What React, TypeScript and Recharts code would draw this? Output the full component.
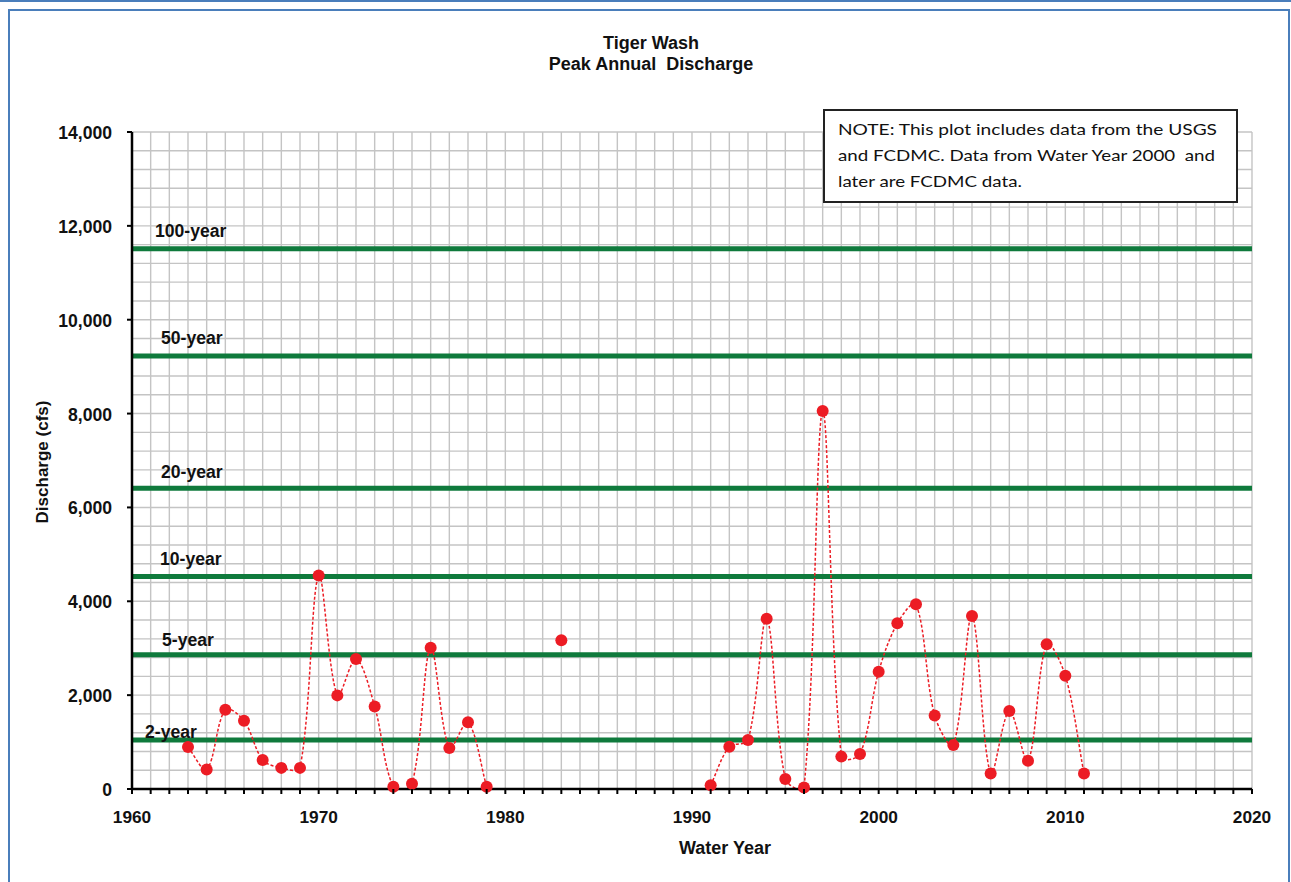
import React from 'react';
import { LineChart, Line, XAxis, YAxis, CartesianGrid, ReferenceLine } from 'recharts';

// ---- data ----
const years = [
  1963, 1964, 1965, 1966, 1967, 1968, 1969, 1970, 1971, 1972, 1973, 1974, 1975, 1976, 1977, 1978, 1979,
  1980, 1981, 1982, 1983, 1984, 1985, 1986, 1987, 1988, 1989, 1990,
  1991, 1992, 1993, 1994, 1995, 1996, 1997, 1998, 1999, 2000, 2001, 2002, 2003, 2004, 2005, 2006, 2007,
  2008, 2009, 2010, 2011,
];
const discharge: (number | null)[] = [
  895, 415, 1690, 1455, 620, 450, 450, 4550, 1995, 2770, 1760, 50, 110, 3010, 873, 1420, 50,
  null, null, null, 3170, null, null, null, null, null, null, null,
  80, 900, 1044, 3630, 213, 30, 8055, 690, 746, 2500, 3530, 3935, 1565, 935, 3686, 330, 1662,
  600, 3085, 2415, 330,
];
const returnPeriodLabels = ['100-year', '50-year', '20-year', '10-year', '5-year', '2-year'];
const returnPeriodFlows = [11510, 9228, 6410, 4530, 2860, 1044];
const xMajorTicks = [1960, 1970, 1980, 1990, 2000, 2010, 2020];
const yMajorTicks = [0, 2000, 4000, 6000, 8000, 10000, 12000, 14000];
const titleLines = ['Tiger Wash', 'Peak Annual  Discharge'];
const xTitle = 'Water Year';
const yTitle = 'Discharge (cfs)';
const noteLines = [
  'NOTE: This plot includes data from the USGS',
  'and FCDMC. Data from Water Year 2000  and',
  'later are FCDMC data.',
];

// ---- layout / style ----
const labelDx = [23, 29, 29, 28, 30, 13];
const labelDy = [-12, -12, -10, -11, -9, -2];
const FONT = '"Liberation Sans", Arial, sans-serif';
const GREEN = '#0f7a3c';
const RED = '#ec1c24';

const data = years.map((year, i) => ({ year, q: discharge[i] }));

const xAllTicks: number[] = [];
for (let y = 1960; y <= 2020; y++) xAllTicks.push(y);
const yAllTicks: number[] = [];
for (let v = 0; v <= 14000; v += 400) yAllTicks.push(v);

// Chord-weighted smoothing curve (similar to Excel's smoothed line)
function smoothCurve(context: any) {
  let pts: number[][] = [];
  let line: number = NaN;
  const dist = (a: number[], b: number[]) => Math.hypot(b[0] - a[0], b[1] - a[1]);
  return {
    areaStart() { line = 0; },
    areaEnd() { line = NaN; },
    lineStart() { pts = []; },
    lineEnd() {
      const n = pts.length;
      if (n > 0) {
        if (line) context.lineTo(pts[0][0], pts[0][1]);
        else context.moveTo(pts[0][0], pts[0][1]);
        if (n === 2) {
          context.lineTo(pts[1][0], pts[1][1]);
        } else if (n > 2) {
          for (let i = 0; i < n - 1; i++) {
            const p0 = pts[i - 1] || pts[i];
            const p1 = pts[i];
            const p2 = pts[i + 1];
            const p3 = pts[i + 2] || pts[i + 1];
            const d01 = dist(p0, p1), d12 = dist(p1, p2), d23 = dist(p2, p3);
            const w1 = d01 + d12 > 0 ? d12 / (d01 + d12) : 0;
            const w2 = d12 + d23 > 0 ? d12 / (d12 + d23) : 0;
            const c1x = p1[0] + ((p2[0] - p0[0]) * w1) / 3;
            const c1y = p1[1] + ((p2[1] - p0[1]) * w1) / 3;
            const c2x = p2[0] - ((p3[0] - p1[0]) * w2) / 3;
            const c2y = p2[1] - ((p3[1] - p1[1]) * w2) / 3;
            context.bezierCurveTo(c1x, c1y, c2x, c2y, p2[0], p2[1]);
          }
        }
      }
      line = 1 - line;
    },
    point(x: number, y: number) {
      pts.push([+x, +y]);
    },
  };
}

const XTick = (props: any) => {
  const { x, y, payload } = props;
  const v = payload.value;
  const major = xMajorTicks.includes(v);
  return (
    <g>
      <line x1={x} x2={x} y1={y} y2={y + 5} stroke="#000" strokeWidth={2} />
      {major && (
        <text x={x} y={y + 34} textAnchor="middle" fontFamily={FONT} fontWeight="bold" fontSize={17.3} fill="#111">
          {v}
        </text>
      )}
    </g>
  );
};

const YTick = (props: any) => {
  const { x, y, payload } = props;
  const v = payload.value;
  if (!yMajorTicks.includes(v)) return <g />;
  return (
    <g>
      <line x1={x - 5} x2={x} y1={y} y2={y} stroke="#000" strokeWidth={2} />
      <text x={x - 20} y={y + 7} textAnchor="end" fontFamily={FONT} fontWeight="bold" fontSize={17.6} fill="#111">
        {v.toLocaleString('en-US')}
      </text>
    </g>
  );
};

const makeRefLabel = (i: number) => (props: any) => {
  const vb = props.viewBox || {};
  return (
    <text x={vb.x + labelDx[i]} y={vb.y + labelDy[i]} fontFamily={FONT} fontWeight="bold" fontSize={17.6} fill="#111">
      {returnPeriodLabels[i]}
    </text>
  );
};

export default function App() {
  return (
    <div style={{ position: 'absolute', left: 0, top: 0, width: 1291, height: 882, overflow: 'hidden', background: '#fff' }}>
      <div style={{ position: 'absolute', left: 0, top: 0, width: 1291, height: 2, background: '#4a7ebb' }} />
      <div
        style={{
          position: 'absolute', left: 8, top: 9, width: 1282, height: 900,
          border: '2px solid #4a7ebb', boxSizing: 'border-box',
        }}
      />
      <div style={{ position: 'absolute', left: 0, top: 0 }}>
        <LineChart width={1291} height={882} data={data} margin={{ top: 132, right: 39, bottom: 23, left: 22 }}>
          <CartesianGrid stroke="#c4c4c4" strokeWidth={1.4} />
          <XAxis
            type="number"
            dataKey="year"
            domain={[1960, 2020]}
            ticks={xAllTicks}
            interval={0}
            height={70}
            tickSize={0}
            tickMargin={0}
            tickLine={false}
            tick={<XTick />}
            axisLine={{ stroke: '#000', strokeWidth: 2.5 }}
            allowDecimals={false}
          />
          <YAxis
            type="number"
            domain={[0, 14000]}
            ticks={yAllTicks}
            interval={0}
            width={110}
            tickSize={0}
            tickMargin={0}
            tickLine={false}
            tick={<YTick />}
            axisLine={{ stroke: '#000', strokeWidth: 2.5 }}
          />
          {returnPeriodFlows.map((v, i) => (
            <ReferenceLine key={returnPeriodLabels[i]} y={v} stroke={GREEN} strokeWidth={5} label={makeRefLabel(i)} />
          ))}
          <Line
            dataKey="q"
            type={smoothCurve as any}
            stroke={RED}
            strokeWidth={1.5}
            strokeDasharray="3 2"
            connectNulls={false}
            dot={{ r: 6, fill: RED, stroke: 'none', strokeDasharray: '' }}
            activeDot={false}
            isAnimationActive={false}
          />
        </LineChart>
      </div>
      <svg width={1291} height={882} style={{ position: 'absolute', left: 0, top: 0, pointerEvents: 'none' }}>
        <text x={651} y={49} textAnchor="middle" fontFamily={FONT} fontWeight="bold" fontSize={18} fill="#111" style={{ whiteSpace: 'pre' }}>
          {titleLines[0]}
        </text>
        <text x={651} y={70} textAnchor="middle" fontFamily={FONT} fontWeight="bold" fontSize={18} fill="#111" style={{ whiteSpace: 'pre' }}>
          {titleLines[1]}
        </text>
        <text x={725} y={854} textAnchor="middle" fontFamily={FONT} fontWeight="bold" fontSize={18} fill="#111">
          {xTitle}
        </text>
        <text
          x={0}
          y={0}
          transform="translate(48 462) rotate(-90)"
          textAnchor="middle"
          fontFamily={FONT}
          fontWeight="bold"
          fontSize={17}
          fill="#111"
        >
          {yTitle}
        </text>
        <rect x={824} y={110} width={413} height={92} fill="#fff" stroke="#222" strokeWidth={2} />
        {noteLines.map((t, i) => (
          <text
            key={i}
            x={838}
            y={135 + i * 26}
            fontFamily='Lato, "Open Sans", sans-serif'
            fontSize={16}
            fill="#111"
            style={{ whiteSpace: 'pre' }}
            textLength={[379, 377, 184][i]}
            lengthAdjust="spacingAndGlyphs"
          >
            {t}
          </text>
        ))}
      </svg>
    </div>
  );
}
